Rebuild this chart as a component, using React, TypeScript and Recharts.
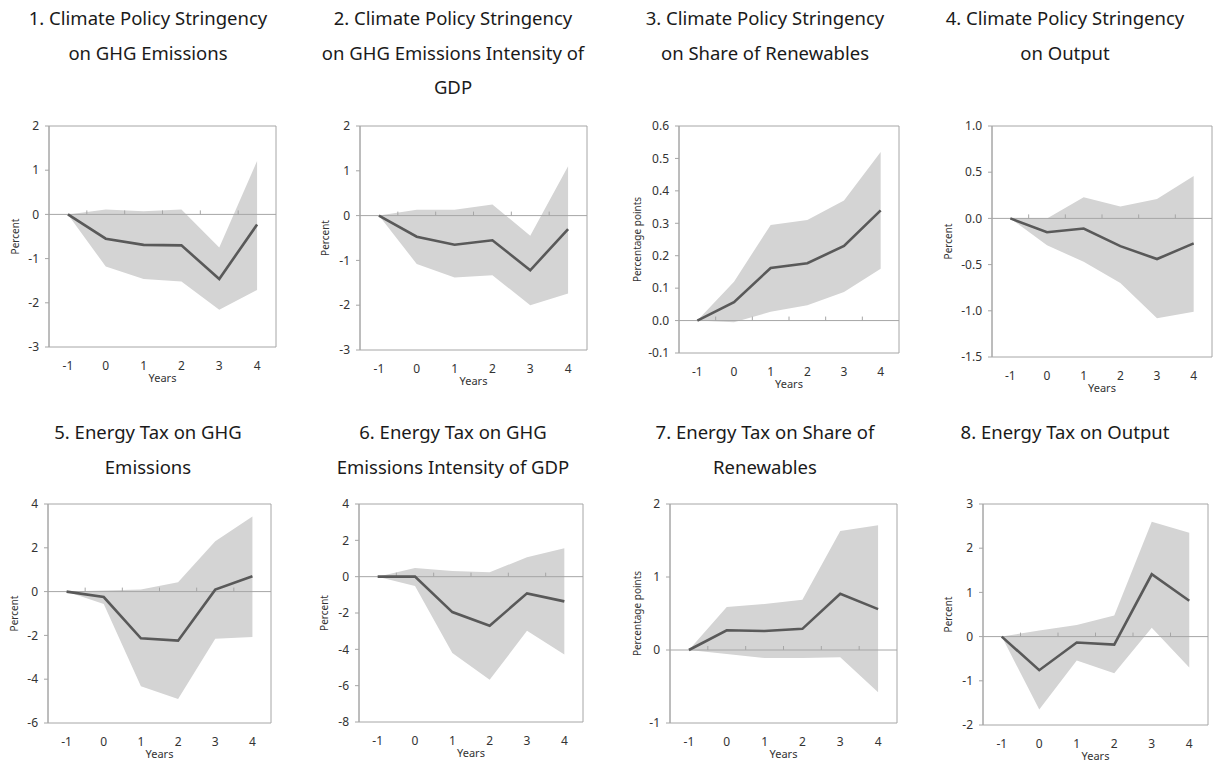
import React from "react";
import {
  ComposedChart,
  Area,
  Line,
  XAxis,
  YAxis,
  ReferenceLine,
  ReferenceArea,
} from "recharts";

// horizon in years
const years = [-1, 0, 1, 2, 3, 4];

// 1. Climate policy stringency on GHG emissions
const p1Mid = [0, -0.55, -0.69, -0.7, -1.46, -0.23];
const p1Hi = [0, 0.11, 0.07, 0.11, -0.75, 1.21];
const p1Lo = [0, -1.18, -1.46, -1.52, -2.16, -1.71];

// 2. Climate policy stringency on GHG emissions intensity of GDP
const p2Mid = [0, -0.47, -0.65, -0.55, -1.22, -0.3];
const p2Hi = [0, 0.13, 0.13, 0.25, -0.45, 1.1];
const p2Lo = [0, -1.08, -1.38, -1.33, -2.0, -1.74];

// 3. Climate policy stringency on share of renewables
const p3Mid = [0, 0.057, 0.162, 0.177, 0.23, 0.34];
const p3Hi = [0, 0.12, 0.295, 0.31, 0.37, 0.52];
const p3Lo = [0, -0.005, 0.027, 0.047, 0.088, 0.16];

// 4. Climate policy stringency on output
const p4Mid = [0, -0.15, -0.11, -0.3, -0.44, -0.27];
const p4Hi = [0, 0.0, 0.23, 0.13, 0.21, 0.46];
const p4Lo = [0, -0.29, -0.47, -0.7, -1.08, -1.01];

// 5. Energy tax on GHG emissions
const p5Mid = [0, -0.25, -2.13, -2.24, 0.09, 0.7];
const p5Hi = [0, 0.05, 0.1, 0.43, 2.3, 3.43];
const p5Lo = [0, -0.57, -4.32, -4.9, -2.15, -2.07];

// 6. Energy tax on GHG emissions intensity of GDP
const p6Mid = [0, 0, -1.95, -2.7, -0.92, -1.36];
const p6Hi = [0, 0.48, 0.31, 0.24, 1.07, 1.57];
const p6Lo = [0, -0.52, -4.2, -5.68, -2.98, -4.28];

// 7. Energy tax on share of renewables
const p7Mid = [0, 0.27, 0.26, 0.29, 0.77, 0.56];
const p7Hi = [0, 0.59, 0.63, 0.69, 1.63, 1.71];
const p7Lo = [0, -0.055, -0.11, -0.11, -0.1, -0.58];

// 8. Energy tax on output
const p8Mid = [0, -0.76, -0.135, -0.18, 1.41, 0.81];
const p8Hi = [0, 0.14, 0.26, 0.48, 2.6, 2.35];
const p8Lo = [0, -1.65, -0.54, -0.83, 0.2, -0.7];

const ticks1 = [-3, -2, -1, 0, 1, 2];
const ticks3 = [-0.1, 0, 0.1, 0.2, 0.3, 0.4, 0.5, 0.6];
const ticks4 = [-1.5, -1, -0.5, 0, 0.5, 1];
const ticks5 = [-6, -4, -2, 0, 2, 4];
const ticks6 = [-8, -6, -4, -2, 0, 2, 4];
const ticks7 = [-1, 0, 1, 2];
const ticks8 = [-2, -1, 0, 1, 2, 3];

const X_DOMAIN = [-1.5, 4.5];
const BOUNDS = [-0.5, 0.5, 1.5, 2.5, 3.5];

const FONT = "'Noto Sans', sans-serif";
const Y_W = 50;
const X_H = 45;
const M = { top: 10, right: 3, bottom: 0, left: 0 };

type Panel = {
  title: string[];
  mid: number[];
  hi: number[];
  lo: number[];
  ticks: number[];
  dec: number;
  yLabel: string;
  col: number;
  row: number;
  box: { l: number; t: number; w: number; b: number };
  gap: number;
};

const panels: Panel[] = [
  { title: ["1. Climate Policy Stringency", "on GHG Emissions"], mid: p1Mid, hi: p1Hi, lo: p1Lo, ticks: ticks1, dec: 0, yLabel: "Percent", col: 0, row: 0, box: { l: 49, t: 126, w: 227, b: 347 }, gap: 34 },
  { title: ["2. Climate Policy Stringency", "on GHG Emissions Intensity of", "GDP"], mid: p2Mid, hi: p2Hi, lo: p2Lo, ticks: ticks1, dec: 0, yLabel: "Percent", col: 1, row: 0, box: { l: 360, t: 126, w: 227, b: 350 }, gap: 35 },
  { title: ["3. Climate Policy Stringency", "on Share of Renewables"], mid: p3Mid, hi: p3Hi, lo: p3Lo, ticks: ticks3, dec: 1, yLabel: "Percentage points", col: 2, row: 0, box: { l: 679, t: 126, w: 220, b: 353 }, gap: 42 },
  { title: ["4. Climate Policy Stringency", "on Output"], mid: p4Mid, hi: p4Hi, lo: p4Lo, ticks: ticks4, dec: 1, yLabel: "Percent", col: 3, row: 0, box: { l: 992, t: 126, w: 220, b: 357 }, gap: 44 },
  { title: ["5. Energy Tax on GHG", "Emissions"], mid: p5Mid, hi: p5Hi, lo: p5Lo, ticks: ticks5, dec: 0, yLabel: "Percent", col: 0, row: 1, box: { l: 48, t: 504, w: 223, b: 723 }, gap: 34 },
  { title: ["6. Energy Tax on GHG", "Emissions Intensity of GDP"], mid: p6Mid, hi: p6Hi, lo: p6Lo, ticks: ticks6, dec: 0, yLabel: "Percent", col: 1, row: 1, box: { l: 359, t: 504, w: 224, b: 722 }, gap: 35 },
  { title: ["7. Energy Tax on Share of", "Renewables"], mid: p7Mid, hi: p7Hi, lo: p7Lo, ticks: ticks7, dec: 0, yLabel: "Percentage points", col: 2, row: 1, box: { l: 670, t: 504, w: 227, b: 723 }, gap: 33 },
  { title: ["8. Energy Tax on Output"], mid: p8Mid, hi: p8Hi, lo: p8Lo, ticks: ticks8, dec: 0, yLabel: "Percent", col: 3, row: 1, box: { l: 983, t: 504, w: 225, b: 725 }, gap: 35 },
];

const titleCx = [148, 453, 765, 1065];
const titleTop = [18, 432];

// zero line with small upward ticks between the year bands
function ZeroLine(props: any) {
  const { x1, x2, y1 } = props;
  const span = X_DOMAIN[1] - X_DOMAIN[0];
  return (
    <g>
      <line x1={x1} x2={x2} y1={y1} y2={y1} stroke="#a6a6a6" strokeWidth={1} />
      {BOUNDS.map((b) => {
        const x = x1 + ((b - X_DOMAIN[0]) / span) * (x2 - x1);
        return <line key={b} x1={x} x2={x} y1={y1} y2={y1 - 4} stroke="#a6a6a6" strokeWidth={1} />;
      })}
    </g>
  );
}

function IrfPanel({ p }: { p: Panel }) {
  const data = years.map((y, i) => ({
    year: y,
    band: [p.lo[i], p.hi[i]],
    mid: p.mid[i],
  }));
  const yMin = p.ticks[0];
  const yMax = p.ticks[p.ticks.length - 1];
  const h = p.box.b - p.box.t;
  const width = Y_W + p.box.w + M.right;
  const height = M.top + h + X_H;

  return (
    <div style={{ position: "absolute", left: p.box.l - Y_W, top: p.box.t - M.top }}>
      <ComposedChart width={width} height={height} data={data} margin={M}>
        <XAxis
          dataKey="year"
          type="number"
          domain={X_DOMAIN}
          ticks={years}
          allowDataOverflow
          axisLine={false}
          tickLine={false}
          tickSize={0}
          tickMargin={14}
          height={X_H}
          tick={{ fontSize: 12, fill: "#333", fontFamily: FONT }}
          label={{
            content: (lp: any) => {
              const vb = lp.viewBox;
              return (
                <text x={vb.x + vb.width / 2} y={vb.y + 35} textAnchor="middle" fontSize={11} fill="#333" fontFamily={FONT}>
                  Years
                </text>
              );
            },
          }}
        />
        <YAxis
          type="number"
          domain={[yMin, yMax]}
          ticks={p.ticks}
          interval={0}
          width={Y_W}
          axisLine={{ stroke: "#a6a6a6" }}
          tickLine={{ stroke: "#a6a6a6" }}
          tickSize={4}
          tickMargin={6}
          tickFormatter={(v: number) => v.toFixed(p.dec)}
          tick={{ fontSize: 12, fill: "#333", fontFamily: FONT }}
          label={{
            content: (lp: any) => {
              const vb = lp.viewBox;
              const x = vb.x + vb.width - p.gap;
              const y = vb.y + vb.height / 2;
              return (
                <text x={x} y={y} transform={`rotate(-90 ${x} ${y})`} textAnchor="middle" dominantBaseline="central" fontSize={10} fill="#333" fontFamily={FONT}>
                  {p.yLabel}
                </text>
              );
            },
          }}
        />
        <Area dataKey="band" type="linear" stroke="none" fill="#d4d4d4" fillOpacity={1} isAnimationActive={false} />
        <ReferenceLine y={0} shape={(sp: any) => <ZeroLine {...sp} />} />
        <Line dataKey="mid" type="linear" stroke="#595959" strokeWidth={2.6} dot={false} isAnimationActive={false} />
        <ReferenceArea x1={X_DOMAIN[0]} x2={X_DOMAIN[1]} y1={yMin} y2={yMax} fill="none" stroke="#a6a6a6" strokeWidth={1} ifOverflow="visible" />
      </ComposedChart>
    </div>
  );
}

export default function App() {
  return (
    <div style={{ position: "absolute", left: 0, top: 0, width: 1215, height: 763, overflow: "hidden", background: "#fff", fontFamily: FONT }}>
      {panels.map((p, i) => (
        <React.Fragment key={i}>
          <div
            style={{
              position: "absolute",
              left: titleCx[p.col] - 150,
              width: 300,
              top: titleTop[p.row] - 17,
              textAlign: "center",
              fontSize: 18.5,
              lineHeight: "34.5px",
              color: "#1a1a1a",
            }}
          >
            {p.title.map((t, j) => (
              <div key={j}>{t}</div>
            ))}
          </div>
          <IrfPanel p={p} />
        </React.Fragment>
      ))}
    </div>
  );
}
